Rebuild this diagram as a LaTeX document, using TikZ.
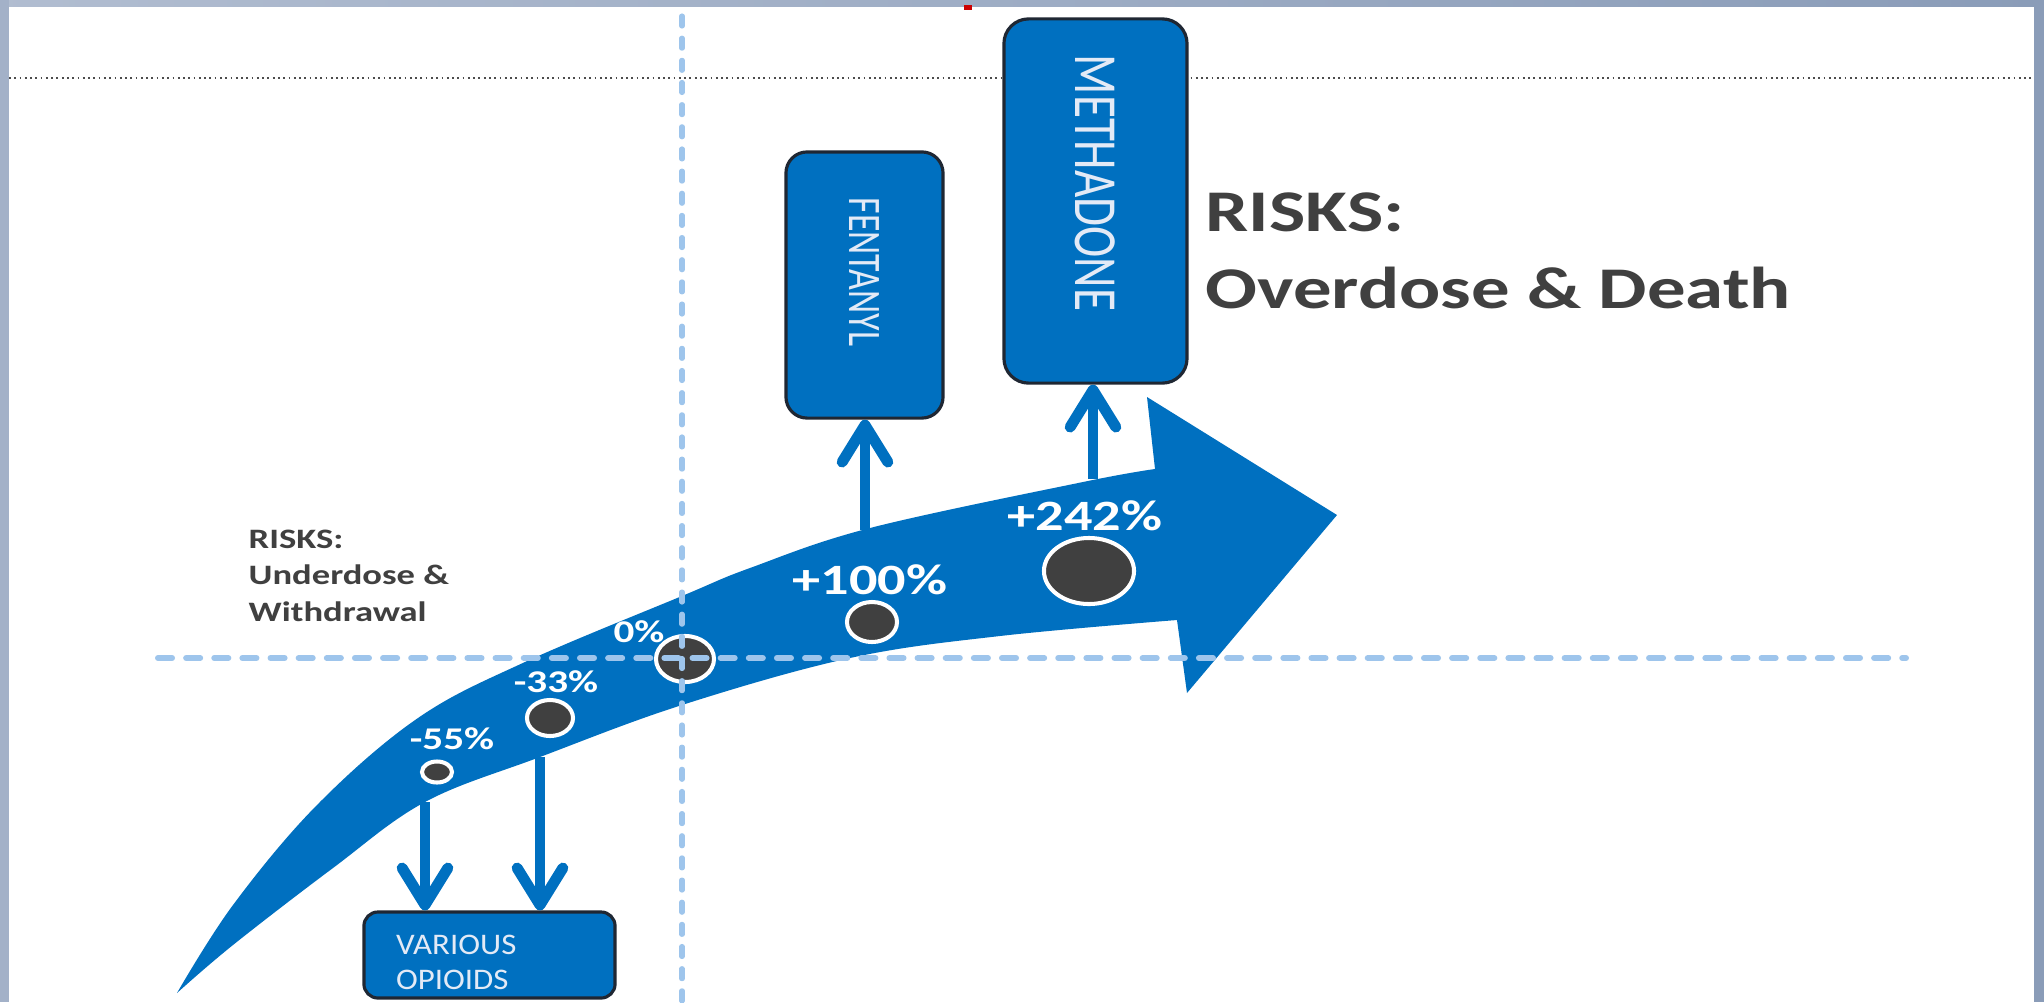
\documentclass[tikz,border=0pt]{standalone}
\usepackage{fontspec}
\setmainfont{Carlito}
\usetikzlibrary{arrows.meta,shapes.geometric}
\definecolor{arrowblue}{HTML}{0070C0}
\definecolor{guideblue}{HTML}{9EC5EC}
\definecolor{dotgray}{HTML}{404040}
\definecolor{textgray}{HTML}{404040}
\definecolor{boxline}{HTML}{1F2733}
\definecolor{boxtext}{HTML}{E3EAF6}
\definecolor{framegray}{HTML}{A3B1C8}
\definecolor{frameblue}{HTML}{8A9CB8}
\newcommand{\stretchx}[2][1.3]{\scalebox{#1}[1]{#2}}
\tikzset{
  drugbox/.style={draw=boxline,line width=0.9pt,fill=arrowblue,inner sep=0pt,text=boxtext},
  dose/.style={ellipse,draw=white,line width=1.15pt,fill=dotgray,inner sep=0pt},
  pct/.style={text=white,inner sep=0pt},
  link/.style={draw=arrowblue,line width=3.1pt,-{Straight Barb[round,length=10.5pt,width=13pt]}},
  hguide/.style={draw=guideblue,line width=1.7pt,line cap=round,dash pattern=on 4pt off 4pt},
  vguide/.style={draw=guideblue,line width=1.45pt,line cap=round,dash pattern=on 2.85pt off 3.45pt},
  risktext/.style={text=textgray,inner sep=0pt,align=left}
}
\begin{document}
\begin{tikzpicture}[x=0.01cm,y=-0.01cm]
\useasboundingbox (0,0) rectangle (2044,1002);
% slide frame
\fill[white] (0,0) rectangle (2044,1002);
\shade[left color=framegray!85,right color=frameblue] (0,0) rectangle (2044,6);
\fill[framegray] (0,0) rectangle (9,1002);
\fill[frameblue] (2034,0) rectangle (2044,1002);
\fill[red!80!black] (964,5) rectangle (972,10);
\draw[densely dotted,line width=0.5pt,black!70] (9,78) -- (2034,78);
% curved dose arrow
\fill[arrowblue] plot[smooth,tension=0.6] coordinates {(177,993) (233,905) (317,805) (418,718) (525,662) (682,596) (750,568) (870,528) (1083,482) (1155,469)}
  -- (1147,397) -- (1337,515) -- (1187,693) -- (1177,620)
  -- plot[smooth,tension=0.6] coordinates {(1177,620) (1000,636) (850,658) (682,705) (540,757) (425,802) (333,868) (233,945) (177,993)} -- cycle;
\path (865,530) coordinate (fenbase)
      (1093,479) coordinate (metbase)
      (425,802) coordinate (opi55)
      (540,757) coordinate (opi33);
% dose points
\foreach \name/\pos/\dw/\dh/\txt/\lpos/\fs in {
  d55/{437,772}/0.30/0.21/-55\%/{452,739}/9,
  d33/{550,718}/0.46/0.36/-33\%/{556,682}/9,
  d0/{685,659}/0.58/0.46/0\%/{639,632}/9,
  d100/{872,622}/0.50/0.40/+100\%/{870,580}/12.3,
  d242/{1089,571}/0.90/0.66/+242\%/{1085,516}/12.3}{
  \node[dose,minimum width=\dw cm,minimum height=\dh cm] (\name) at (\pos) {};
  \node[pct,font=\fontsize{\fs pt}{\fs pt}\selectfont\bfseries] (\name-lab) at (\lpos) {\stretchx{\txt}};
}
% drug boxes
\node[drugbox,minimum width=1.57cm,minimum height=2.66cm,rounded corners=6pt] (fentanyl) at (864.5,285)
  {\rotatebox{-90}{\fontsize{10.2pt}{12pt}\selectfont\scalebox{1}[1.3]{FENTANYL}\hspace{0.26cm}}};
\node[drugbox,minimum width=1.83cm,minimum height=3.64cm,rounded corners=7pt] (methadone) at (1095.5,201)
  {\rotatebox{-90}{\fontsize{13.4pt}{16pt}\selectfont\scalebox{1}[1.3]{METHADONE}\hspace{0.36cm}}};
\node[drugbox,rounded corners=4pt,minimum width=2.51cm,minimum height=0.86cm] (opioids) at (489.5,955) {};
\node[risktext,text=boxtext,anchor=west,font=\fontsize{8.5pt}{10pt}\selectfont] (opioids-text)
  at ([xshift=0.33cm,yshift=-0.07cm]opioids.west) {\stretchx[1.1]{VARIOUS}\\\stretchx[1.1]{OPIOIDS}};
% links
\draw[link] (fenbase) -- (fenbase |- fentanyl.south);
\draw[link] (metbase) -- (metbase |- methadone.south);
\draw[link] (opi55) -- (opi55 |- opioids.north);
\draw[link] (opi33) -- (opi33 |- opioids.north);
% guide lines
\draw[vguide] (682,16) -- (682,1002);
\draw[hguide] (158,658) -- (1906,658);
% risks
\node[risktext,anchor=north west,font=\fontsize{8pt}{10.4pt}\selectfont\bfseries] (lowrisk) at (248,529)
  {\stretchx{RISKS:}\\\stretchx{Underdose \&}\\\stretchx{Withdrawal}};
\node[risktext,anchor=north west,font=\fontsize{16.8pt}{22pt}\selectfont\bfseries] (highrisk) at (1205,192)
  {\stretchx{RISKS:}\\\stretchx{Overdose \& Death}};
\end{tikzpicture}
\end{document}
